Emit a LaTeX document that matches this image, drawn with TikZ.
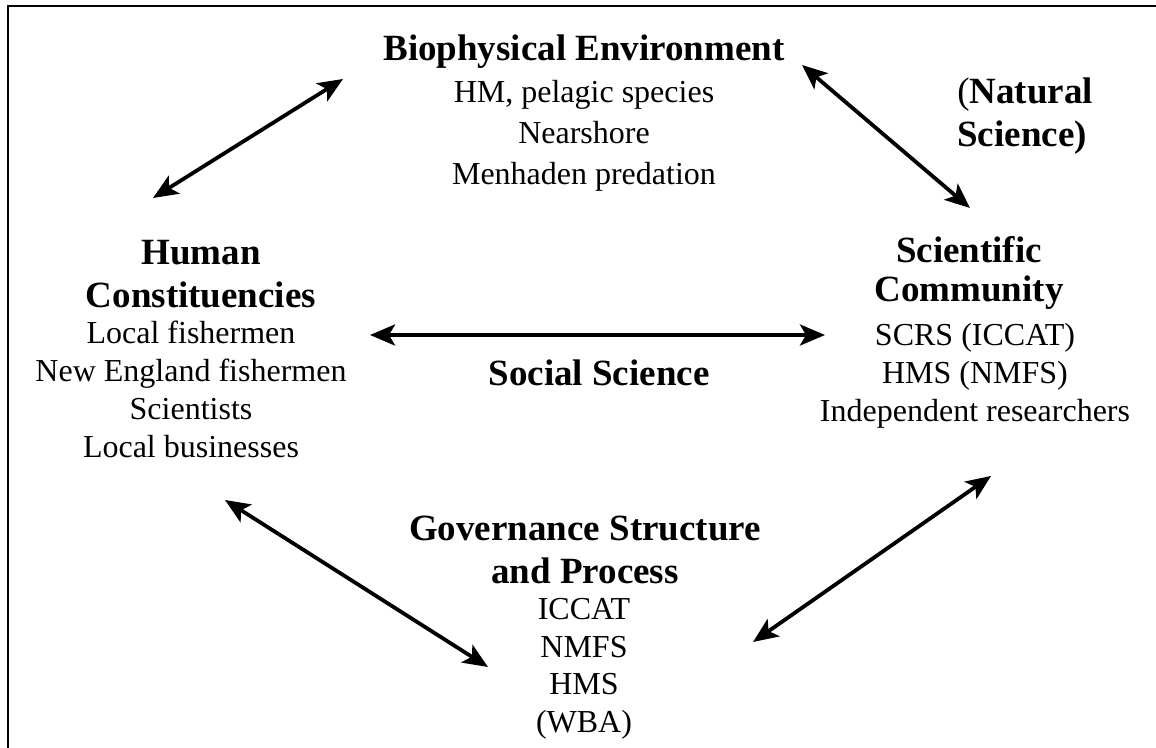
\documentclass[tikz,border=0pt]{standalone}
\usepackage{fontspec}
\setmainfont{Liberation Serif}
\usetikzlibrary{arrows.meta}

\begin{document}
\begin{tikzpicture}[
    x=0.5pt, y=-0.5pt,
    frame/.style={draw=black, line width=1pt},
    head/.style={font=\fontsize{18.5}{21.5}\selectfont\bfseries, align=center, anchor=base, inner sep=0pt},
    item/.style={font=\fontsize{16}{19}\selectfont, align=center, anchor=base, inner sep=0pt},
    link/.style={draw=black, line width=1.9pt, {Stealth[length=12.5pt,width=10.5pt,inset=3pt]}-{Stealth[length=12.5pt,width=10.5pt,inset=3pt]}},
  ]

  % Page frame: only the left and top edges are shown.
  \draw[frame] (8,760) -- (8,6) -- (1170,6);

  % Biophysical environment (top); base anchors sit on the last line
  \node[head] (bio) at (584,61) {Biophysical Environment};
  \node[item, font=\fontsize{16}{20.5}\selectfont] (bioitems) at (584,185)
    {HM, pelagic species\\Nearshore\\Menhaden predation};

  \node[head, align=left, anchor=base west] (natsci) at (957,147)
    {{\mdseries(}Natural\\Science)};

  % Human constituencies (left)
  \node[head] (hc) at (201,308) {Human\\Constituencies};
  \node[item] (hcitems) at (191,458)
    {Local fishermen\\New England fishermen\hspace*{27pt}\\Scientists\\Local businesses};

  % Scientific community (right)
  \node[head, font=\fontsize{18.5}{19.5}\selectfont\bfseries] (sci) at (969,302) {Scientific\\Community};
  \node[item] (sciitems) at (975,422)
    {SCRS (ICCAT)\\HMS (NMFS)\\Independent researchers};

  \node[head] (socsci) at (599,386) {Social Science};

  % Governance structure and process (bottom)
  \node[head] (gov) at (585,583) {Governance Structure\\and Process};
  \node[item, font=\fontsize{16}{18.7}\selectfont] (govitems) at (584,732)
    {ICCAT\\NMFS\\HMS\\(WBA)};

  % Two-headed links between the four parts
  \coordinate (hc-bio) at (153,198);
  \coordinate (bio-hc) at (343,79);
  \coordinate (bio-sci) at (802,65);
  \coordinate (sci-bio) at (970,208);
  \coordinate (hc-sci) at (370,335);
  \coordinate (sci-hc) at (825,335);
  \coordinate (hc-gov) at (225,500);
  \coordinate (gov-hc) at (488,667);
  \coordinate (gov-sci) at (753,642);
  \coordinate (sci-gov) at (991,476);

  \draw[link] (hc-bio) -- (bio-hc);
  \draw[link] (bio-sci) -- (sci-bio);
  \draw[link] (hc-sci) -- (sci-hc);
  \draw[link] (hc-gov) -- (gov-hc);
  \draw[link] (gov-sci) -- (sci-gov);

  \pgfresetboundingbox
  \path[use as bounding box] (0,0) rectangle (1156,748);
\end{tikzpicture}
\end{document}
